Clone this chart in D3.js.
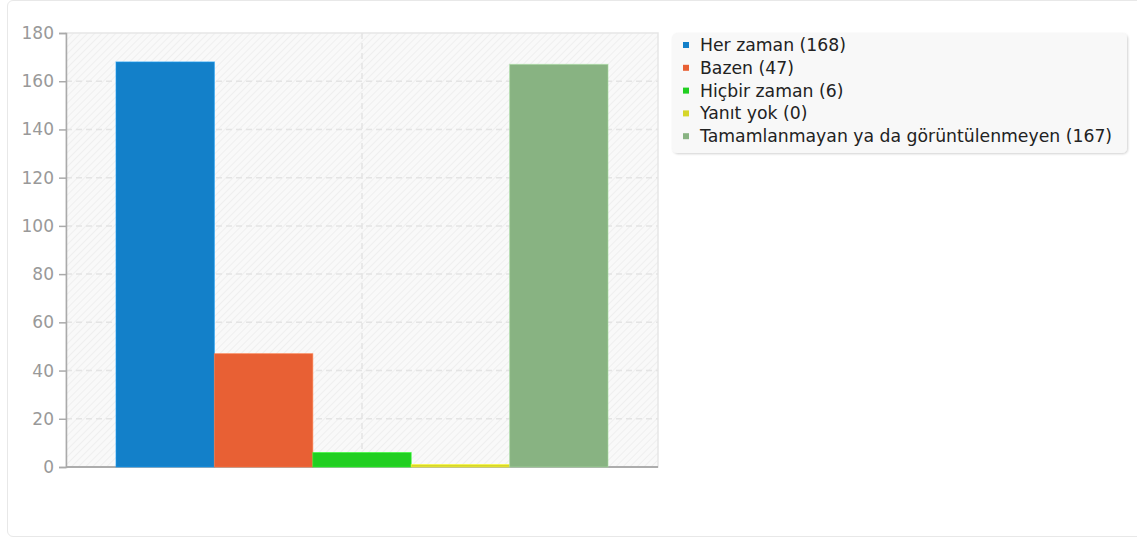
<!DOCTYPE html>
<html>
<head>
<meta charset="utf-8">
<script src="https://cdn.jsdelivr.net/npm/d3@7/dist/d3.min.js"></script>
<style>
  html, body { margin: 0; padding: 0; background: #fff; }
  body { width: 1137px; height: 539px; overflow: hidden; font-family: "DejaVu Sans", sans-serif; }
  #frame {
    position: absolute; left: 7px; top: 0px; width: 1140px; height: 537px;
    border: 1px solid #e8e8e8; border-radius: 6px; box-sizing: border-box;
  }
  #chart { position: absolute; left: 0; top: 0; }
</style>
</head>
<body>
<div id="frame"></div>
<svg id="chart" width="1137" height="539"></svg>
<script>
  // Yanıt dağılımı
  const categories = ["Her zaman", "Bazen", "Hiçbir zaman", "Yanıt yok", "Tamamlanmayan ya da görüntülenmeyen"];
  const values = [168, 47, 6, 0, 167];
  const colors = ["#1380c9", "#e86034", "#21cf21", "#d6d62a", "#88b382"];
  const yTicks = [0, 20, 40, 60, 80, 100, 120, 140, 160, 180];

  const plot = { left: 66, top: 33, right: 658, bottom: 467 };
  const svg = d3.select("#chart");

  const defs = svg.append("defs");
  const pat = defs.append("pattern")
    .attr("id", "hatch")
    .attr("patternUnits", "userSpaceOnUse")
    .attr("width", 5).attr("height", 5)
    .attr("patternTransform", "rotate(45)");
  pat.append("rect").attr("width", 5).attr("height", 5).attr("fill", "#f9f9f9");
  pat.append("line")
    .attr("x1", 0).attr("y1", 0).attr("x2", 0).attr("y2", 5)
    .attr("stroke", "#ededed").attr("stroke-width", 1.6);

  const filter = defs.append("filter").attr("id", "shadow")
    .attr("x", "-5%").attr("y", "-10%").attr("width", "110%").attr("height", "130%");
  filter.append("feDropShadow")
    .attr("dx", 1).attr("dy", 1).attr("stdDeviation", 1.2)
    .attr("flood-color", "#000").attr("flood-opacity", 0.18);

  const y = d3.scaleLinear().domain([0, 180]).range([plot.bottom, plot.top]);
  const x0 = d3.scaleBand().domain(["q"]).range([plot.left, plot.right]).paddingInner(0).paddingOuter(0.1016);
  const x1 = d3.scaleBand().domain(categories).range([0, x0.bandwidth()]);

  // plot background
  svg.append("rect")
    .attr("x", plot.left).attr("y", plot.top)
    .attr("width", plot.right - plot.left).attr("height", plot.bottom - plot.top)
    .attr("fill", "url(#hatch)")
    .attr("stroke", "#e6e6e6").attr("stroke-width", 1.5);

  // grid
  svg.append("g")
    .selectAll("line")
    .data(yTicks.filter(d => d > 0 && d < 180))
    .join("line")
    .attr("x1", plot.left).attr("x2", plot.right)
    .attr("y1", d => y(d)).attr("y2", d => y(d))
    .attr("stroke", "#e4e4e4").attr("stroke-width", 1.5)
    .attr("stroke-dasharray", "6,4");

  svg.append("line")
    .attr("x1", (plot.left + plot.right) / 2).attr("x2", (plot.left + plot.right) / 2)
    .attr("y1", plot.top).attr("y2", plot.bottom)
    .attr("stroke", "#e4e4e4").attr("stroke-width", 1.5)
    .attr("stroke-dasharray", "6,4");

  // x axis line
  svg.append("line")
    .attr("x1", plot.left).attr("x2", plot.right)
    .attr("y1", plot.bottom).attr("y2", plot.bottom)
    .attr("stroke", "#999").attr("stroke-width", 1.5);

  // bars
  const g = svg.append("g").attr("transform", `translate(${x0("q")},0)`);
  g.selectAll("rect")
    .data(values)
    .join("rect")
    .attr("x", (d, i) => x1(categories[i]))
    .attr("width", x1.bandwidth())
    .attr("y", d => Math.min(y(d), plot.bottom - 2.5))
    .attr("height", d => Math.max(plot.bottom - y(d), 2.5))
    .attr("fill", (d, i) => colors[i])
    .attr("stroke", (d, i) => d3.color(colors[i]).brighter(0.6))
    .attr("stroke-opacity", 0.6)
    .attr("stroke-width", 1);

  // y axis
  const yAxis = d3.axisLeft(y).tickValues(yTicks).tickSize(7).tickPadding(5);
  const ya = svg.append("g").attr("transform", `translate(${plot.left},0)`).call(yAxis);
  ya.select(".domain").attr("stroke", "#aaa").attr("stroke-width", 1.5);
  ya.selectAll(".tick line").attr("stroke", "#aaa").attr("stroke-width", 1.5);
  ya.selectAll(".tick text")
    .attr("fill", "#999")
    .attr("font-size", "17px")
    .attr("font-family", "DejaVu Sans, sans-serif");

  // legend
  const lg = svg.append("g").attr("transform", "translate(672,33)");
  lg.append("rect")
    .attr("width", 455).attr("height", 120).attr("rx", 5)
    .attr("fill", "#f8f8f8")
    .attr("filter", "url(#shadow)");
  const items = lg.selectAll("g.item")
    .data(categories)
    .join("g")
    .attr("class", "item")
    .attr("transform", (d, i) => `translate(11,${12 + i * 22.8})`);
  items.append("rect")
    .attr("x", 0).attr("y", -3).attr("width", 6).attr("height", 6)
    .attr("fill", (d, i) => colors[i]);
  items.append("text")
    .attr("x", 17).attr("y", 0).attr("dy", "0.35em")
    .attr("font-size", "17.25px")
    .attr("font-family", "DejaVu Sans, sans-serif")
    .attr("fill", "#222")
    .text((d, i) => `${d} (${values[i]})`);
</script>
</body>
</html>
